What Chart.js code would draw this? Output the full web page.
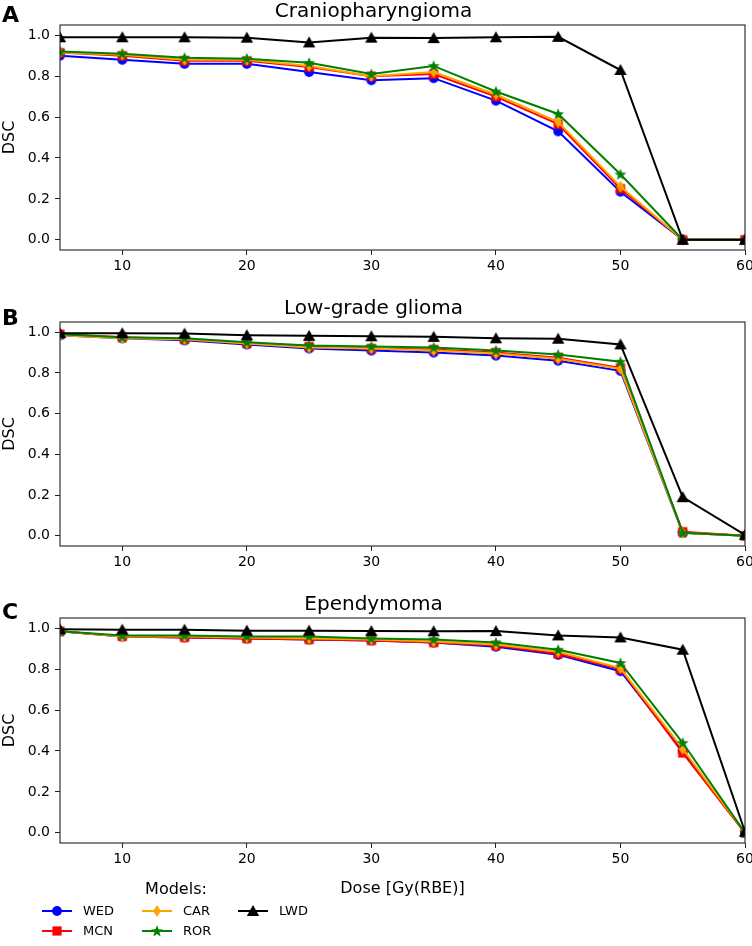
<!DOCTYPE html>
<html>
<head>
<meta charset="utf-8">
<script src="https://cdn.jsdelivr.net/npm/chart.js@4.4.1/dist/chart.umd.min.js"></script>
<style>
  body { margin: 0; background: #fff; font-family: "DejaVu Sans", sans-serif; }
  #page { position: relative; width: 752px; height: 946px; overflow: hidden; }
  .panel { position: absolute; left: 0; width: 752px; }
  .letter { position: absolute; left: 2px; font-weight: bold; font-size: 22px; line-height: 22px; }
  #legend { position: absolute; left: 0; top: 870px; width: 300px; height: 76px; }
  .ltitle { position: absolute; font-size: 16px; line-height: 16px; transform: translateX(-50%); }
  .lcanvas { position: absolute; }
  .llabel { position: absolute; font-size: 13px; line-height: 14px; }
</style>
</head>
<body>
<div id="page">
  <div class="panel" style="top:0px;height:285px"><canvas id="chartA"></canvas></div>
  <div class="panel" style="top:297px;height:284px"><canvas id="chartB"></canvas></div>
  <div class="panel" style="top:593px;height:305px"><canvas id="chartC"></canvas></div>
  <div class="letter" style="top:4px">A</div>
  <div class="letter" style="top:307px">B</div>
  <div class="letter" style="top:601px">C</div>
  <div id="legend"></div>
</div>
<script>
// dose levels and ticks
const doses = [5, 10, 15, 20, 25, 30, 35, 40, 45, 50, 55, 60];
const xTicks = [10, 20, 30, 40, 50, 60];
const yTicks = [0, 0.2, 0.4, 0.6, 0.8, 1.0];
const models = ['WED', 'MCN', 'CAR', 'ROR', 'LWD'];
const colors = ['#0000ff', '#ff0000', '#ffa500', '#008000', '#000000'];

// A - Craniopharyngioma
const cranioWED = [0.90, 0.88, 0.86, 0.86, 0.82, 0.78, 0.79, 0.68, 0.53, 0.235, 0.0, 0.0];
const cranioMCN = [0.915, 0.90, 0.875, 0.875, 0.845, 0.80, 0.81, 0.70, 0.565, 0.25, 0.0, 0.0];
const cranioCAR = [0.915, 0.905, 0.88, 0.88, 0.85, 0.80, 0.82, 0.71, 0.575, 0.26, 0.0, 0.0];
const cranioROR = [0.92, 0.91, 0.89, 0.885, 0.865, 0.81, 0.85, 0.725, 0.615, 0.32, 0.0, 0.0];
const cranioLWD = [0.99, 0.99, 0.99, 0.988, 0.965, 0.988, 0.986, 0.99, 0.992, 0.83, 0.0, 0.0];

// B - Low-grade glioma
const lggWED = [0.985, 0.97, 0.96, 0.94, 0.92, 0.91, 0.90, 0.885, 0.86, 0.81, 0.015, 0.0];
const lggMCN = [0.99, 0.975, 0.965, 0.945, 0.93, 0.92, 0.915, 0.90, 0.875, 0.825, 0.02, 0.0];
const lggCAR = [0.985, 0.97, 0.965, 0.945, 0.925, 0.92, 0.91, 0.895, 0.87, 0.82, 0.015, 0.0];
const lggROR = [0.99, 0.975, 0.97, 0.95, 0.935, 0.93, 0.925, 0.91, 0.89, 0.855, 0.015, 0.0];
const lggLWD = [0.995, 0.995, 0.993, 0.985, 0.982, 0.98, 0.977, 0.97, 0.968, 0.94, 0.19, 0.005];

// C - Ependymoma
const ependWED = [0.985, 0.96, 0.955, 0.95, 0.945, 0.94, 0.93, 0.91, 0.87, 0.79, 0.40, 0.0];
const ependMCN = [0.985, 0.96, 0.955, 0.95, 0.945, 0.94, 0.93, 0.915, 0.875, 0.80, 0.39, 0.0];
const ependCAR = [0.985, 0.96, 0.96, 0.955, 0.95, 0.945, 0.935, 0.92, 0.885, 0.805, 0.41, 0.0];
const ependROR = [0.985, 0.965, 0.965, 0.96, 0.96, 0.95, 0.945, 0.93, 0.895, 0.83, 0.44, 0.0];
const ependLWD = [0.995, 0.993, 0.993, 0.988, 0.988, 0.986, 0.985, 0.986, 0.965, 0.955, 0.895, 0.005];

const FONT = '"DejaVu Sans", sans-serif';

// matplotlib-like markers drawn on small canvases
function makeMarker(shape, color) {
    const s = 14;
    const c = document.createElement('canvas');
    c.width = s; c.height = s;
    const g = c.getContext('2d');
    const m = s / 2;
    g.fillStyle = color;
    g.beginPath();
    if (shape === 'circle') {
        g.arc(m, m, 4.9, 0, Math.PI * 2);
    } else if (shape === 'square') {
        g.rect(m - 4.6, m - 4.6, 9.2, 9.2);
    } else if (shape === 'diamond') {
        g.moveTo(m, m - 6); g.lineTo(m + 3.9, m); g.lineTo(m, m + 6); g.lineTo(m - 3.9, m);
    } else if (shape === 'star') {
        for (let i = 0; i < 10; i++) {
            const r = i % 2 === 0 ? 6.2 : 2.6;
            const a = -Math.PI / 2 + i * Math.PI / 5;
            const px = m + r * Math.cos(a), py = m + 0.4 + r * Math.sin(a);
            i === 0 ? g.moveTo(px, py) : g.lineTo(px, py);
        }
    } else if (shape === 'triangle') {
        g.moveTo(m, m - 6); g.lineTo(m + 6.2, m + 5); g.lineTo(m - 6.2, m + 5);
    }
    g.closePath();
    g.fill();
    return c;
}
const markers = [
    makeMarker('circle', colors[0]),
    makeMarker('square', colors[1]),
    makeMarker('diamond', colors[2]),
    makeMarker('star', colors[3]),
    makeMarker('triangle', colors[4])
];

const framePlugin = {
    id: 'frame',
    afterDraw(chart) {
        const a = chart.chartArea;
        const ctx = chart.ctx;
        ctx.save();
        ctx.strokeStyle = '#222';
        ctx.lineWidth = 1.1;
        ctx.strokeRect(a.left, a.top, a.right - a.left, a.bottom - a.top);
        ctx.restore();
    }
};

function makePanel(id, title, series, xAxisHeight, showXTitle) {
    const datasets = series.map((vals, i) => ({
        label: models[i],
        data: vals.map((v, j) => ({ x: doses[j], y: v })),
        borderColor: colors[i],
        backgroundColor: colors[i],
        borderWidth: 2,
        pointStyle: markers[i],
        pointRadius: 5,
        order: series.length - 1 - i,
        tension: 0
    }));
    new Chart(document.getElementById(id), {
        type: 'line',
        data: { datasets: datasets },
        plugins: [framePlugin],
        options: {
            responsive: true,
            maintainAspectRatio: false,
            animation: false,
            events: [],
            layout: { padding: { left: 0, right: 5, top: 0, bottom: 0 } },
            plugins: {
                legend: { display: false },
                tooltip: { enabled: false },
                title: {
                    display: true,
                    text: title,
                    color: '#000',
                    font: { family: FONT, size: 20, weight: 'normal' },
                    padding: { top: 0, bottom: 1 }
                }
            },
            scales: {
                x: {
                    type: 'linear',
                    min: 5,
                    max: 60,
                    afterBuildTicks: s => { s.ticks = xTicks.map(v => ({ value: v })); },
                    afterFit: s => { s.height = xAxisHeight; s.paddingLeft = 0; s.paddingRight = 0; },
                    border: { display: false },
                    grid: { drawOnChartArea: false, drawTicks: true, tickLength: 5, color: '#222' },
                    ticks: { color: '#000', font: { family: FONT, size: 14 }, padding: 3, maxRotation: 0 },
                    title: {
                        display: showXTitle,
                        text: 'Dose [Gy(RBE)]',
                        color: '#000',
                        font: { family: FONT, size: 16 },
                        padding: { top: 0, bottom: 0 }
                    }
                },
                y: {
                    min: -0.05,
                    max: 1.05,
                    afterBuildTicks: s => { s.ticks = yTicks.map(v => ({ value: v })); },
                    afterFit: s => { s.width = 60; s.paddingTop = 0; s.paddingBottom = 0; },
                    border: { display: false },
                    grid: { drawOnChartArea: false, drawTicks: true, tickLength: 5, color: '#222' },
                    ticks: {
                        color: '#000',
                        font: { family: FONT, size: 14 },
                        padding: 5,
                        callback: v => v.toFixed(1)
                    },
                    title: {
                        display: true,
                        text: 'DSC',
                        color: '#000',
                        font: { family: FONT, size: 16 },
                        padding: { top: 0, bottom: 0 }
                    }
                }
            }
        }
    });
}

makePanel('chartA', 'Craniopharyngioma', [cranioWED, cranioMCN, cranioCAR, cranioROR, cranioLWD], 35, false);
makePanel('chartB', 'Low-grade glioma', [lggWED, lggMCN, lggCAR, lggROR, lggLWD], 35, false);
makePanel('chartC', 'Ependymoma', [ependWED, ependMCN, ependCAR, ependROR, ependLWD], 55, true);

// legend: "Models:" title, 3 columns x 2 rows, column-major
const legend = document.getElementById('legend');
const lt = document.createElement('div');
lt.className = 'ltitle';
lt.textContent = 'Models:';
lt.style.left = '176px';
lt.style.top = '11px';
legend.appendChild(lt);
const colX = [42, 142, 238];
const rowY = [41, 61];
models.forEach((name, i) => {
    const x = colX[Math.floor(i / 2)];
    const y = rowY[i % 2];
    const c = document.createElement('canvas');
    c.className = 'lcanvas';
    c.width = 30; c.height = 14;
    c.style.left = x + 'px';
    c.style.top = (y - 7) + 'px';
    const g = c.getContext('2d');
    g.strokeStyle = colors[i];
    g.lineWidth = 2;
    g.beginPath(); g.moveTo(0, 7); g.lineTo(30, 7); g.stroke();
    g.drawImage(markers[i], 15 - markers[i].width / 2, 7 - markers[i].height / 2);
    legend.appendChild(c);
    const l = document.createElement('div');
    l.className = 'llabel';
    l.textContent = name;
    l.style.left = (x + 41) + 'px';
    l.style.top = (y - 7) + 'px';
    legend.appendChild(l);
});
</script>
</body>
</html>
